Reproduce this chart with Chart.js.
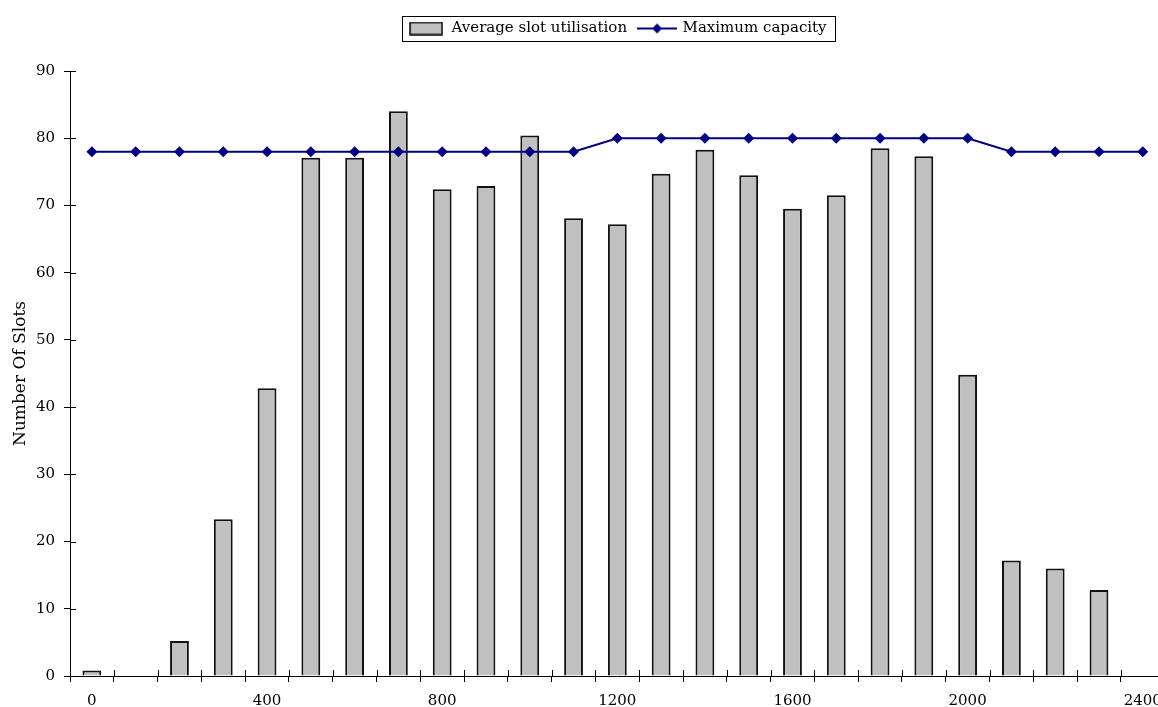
<!DOCTYPE html>
<html lang="en">
<head>
  <meta charset="UTF-8" />
  <title>Average slot utilisation</title>
  <script src="https://cdn.jsdelivr.net/npm/chart.js"></script>
  <style>
    html, body { margin: 0; padding: 0; background: #fff; overflow: hidden; }
    #wrap { width: 1172px; height: 712px; position: relative; }
  </style>
</head>
<body>
  <div id="wrap"><canvas id="slotChart"></canvas></div>

  <script>
    // time categories along x
    const timeLabels = [0, 100, 200, 300, 400, 500, 600, 700, 800, 900, 1000, 1100, 1200,
                        1300, 1400, 1500, 1600, 1700, 1800, 1900, 2000, 2100, 2200, 2300, 2400];
    // bars
    const avgUtilisation = [0.8, null, 5.2, 23.3, 42.8, 77.1, 77.1, 84.0, 72.4, 72.9, 80.4, 68.1, 67.2,
                            74.7, 78.3, 74.5, 69.5, 71.5, 78.5, 77.3, 44.8, 17.2, 16.0, 12.8, null];
    // line
    const maxCapacity = [78, 78, 78, 78, 78, 78, 78, 78, 78, 78, 78, 78, 80,
                         80, 80, 80, 80, 80, 80, 80, 80, 78, 78, 78, 78];
    const xLabelEvery = 400;
    const yMin = 0, yMax = 90, yStep = 10;

    const FONT = 'DejaVu Serif';

    // legend icons
    function swatchIcon() {
      const c = document.createElement('canvas');
      c.width = 34; c.height = 14;
      const g = c.getContext('2d');
      g.fillStyle = '#C0C0C0';
      g.fillRect(1, 1, 32, 12);
      g.strokeStyle = '#000';
      g.lineWidth = 1.5;
      g.strokeRect(1, 1, 32, 12);
      return c;
    }
    function lineIcon() {
      const c = document.createElement('canvas');
      c.width = 40; c.height = 12;
      const g = c.getContext('2d');
      g.strokeStyle = '#000080';
      g.lineWidth = 2;
      g.beginPath(); g.moveTo(0, 6); g.lineTo(40, 6); g.stroke();
      g.fillStyle = '#000080';
      g.beginPath(); g.moveTo(20, 1); g.lineTo(25, 6); g.lineTo(20, 11); g.lineTo(15, 6); g.closePath(); g.fill();
      return c;
    }
    const icons = [swatchIcon(), lineIcon()];

    // extra space between legend and plot
    const legendGap = {
      id: 'legendGap',
      afterInit(chart) {
        const lg = chart.legend;
        const fit = lg.fit;
        lg.fit = function () { fit.call(this); this.height += 25; };
      }
    };

    // frame round the legend + tick marks that cross the axes
    const extras = {
      id: 'extras',
      afterDraw(chart) {
        const ctx = chart.ctx;
        const boxes = chart.legend.legendHitBoxes;
        if (boxes && boxes.length) {
          const l = Math.min(...boxes.map(b => b.left)) - 6;
          const r = Math.max(...boxes.map(b => b.left + b.width)) + 8;
          const t = boxes[0].top - 5;
          const h = boxes[0].height + 10;
          ctx.save();
          ctx.strokeStyle = '#000';
          ctx.lineWidth = 1;
          ctx.strokeRect(Math.round(l) + 0.5, Math.round(t) + 0.5, Math.round(r - l), Math.round(h));
          ctx.restore();
        }
        const x = chart.scales.x, y = chart.scales.y;
        ctx.save();
        ctx.strokeStyle = '#000';
        ctx.lineWidth = 1;
        ctx.beginPath();
        y.ticks.forEach(t => {
          const py = Math.round(y.getPixelForValue(t.value)) + 0.5;
          ctx.moveTo(x.left, py); ctx.lineTo(x.left + 6, py);
        });
        const half = (x.getPixelForValue(1) - x.getPixelForValue(0)) / 2;
        for (let i = 0; i <= timeLabels.length; i++) {
          const px = Math.round(x.getPixelForValue(i) - half) + 0.5;
          ctx.moveTo(px, y.bottom); ctx.lineTo(px, y.bottom - 6);
        }
        ctx.stroke();
        ctx.restore();
      }
    };

    Chart.defaults.font.family = FONT;
    Chart.defaults.font.size = 15;
    Chart.defaults.color = '#000';

    new Chart(document.getElementById('slotChart'), {
      type: 'bar',
      data: {
        labels: timeLabels,
        datasets: [
          {
            label: 'Average slot utilisation',
            data: avgUtilisation,
            backgroundColor: '#C0C0C0',
            borderColor: '#111',
            borderWidth: 2,
            categoryPercentage: 1,
            barPercentage: 0.43,
            order: 1
          },
          {
            type: 'line',
            label: 'Maximum capacity',
            data: maxCapacity,
            borderColor: '#000080',
            backgroundColor: '#000080',
            borderWidth: 2,
            pointStyle: 'rectRot',
            pointRadius: 5.5,
            pointBorderWidth: 0,
            tension: 0,
            order: 0
          }
        ]
      },
      options: {
        responsive: true,
        maintainAspectRatio: false,
        animation: false,
        layout: { padding: { top: 9, left: 7, right: 6, bottom: 2 } },
        plugins: {
          tooltip: { enabled: false },
          legend: {
            position: 'top',
            fullSize: false,
            labels: {
              usePointStyle: true,
              pointStyleWidth: 36,
              padding: 12,
              font: { family: FONT, size: 15 },
              color: '#000',
              generateLabels(chart) {
                const items = Chart.defaults.plugins.legend.labels.generateLabels(chart);
                items.forEach(it => { it.pointStyle = icons[it.datasetIndex]; });
                return items.sort((a, b) => a.datasetIndex - b.datasetIndex);
              }
            }
          }
        },
        scales: {
          x: {
            grid: { drawOnChartArea: false, drawTicks: true, tickLength: 6, color: '#000', offset: true },
            border: { color: '#000', width: 1 },
            ticks: {
              autoSkip: false,
              maxRotation: 0,
              padding: 10,
              font: { family: FONT, size: 15 },
              color: '#000',
              callback(v, i) { return timeLabels[i] % xLabelEvery === 0 ? String(timeLabels[i]) : ''; }
            },
            afterFit(s) { s.height = 34; }
          },
          y: {
            min: yMin,
            max: yMax,
            grid: { drawOnChartArea: false, drawTicks: true, tickLength: 6, color: '#000' },
            border: { color: '#000', width: 1 },
            ticks: { stepSize: yStep, padding: 9, font: { family: FONT, size: 15 }, color: '#000' },
            title: { display: true, text: 'Number Of Slots', font: { family: FONT, size: 17 }, color: '#000', padding: { top: 3, bottom: 4 } },
            afterFit(s) { s.width = 63; }
          }
        }
      },
      plugins: [legendGap, extras]
    });
  </script>
</body>
</html>
